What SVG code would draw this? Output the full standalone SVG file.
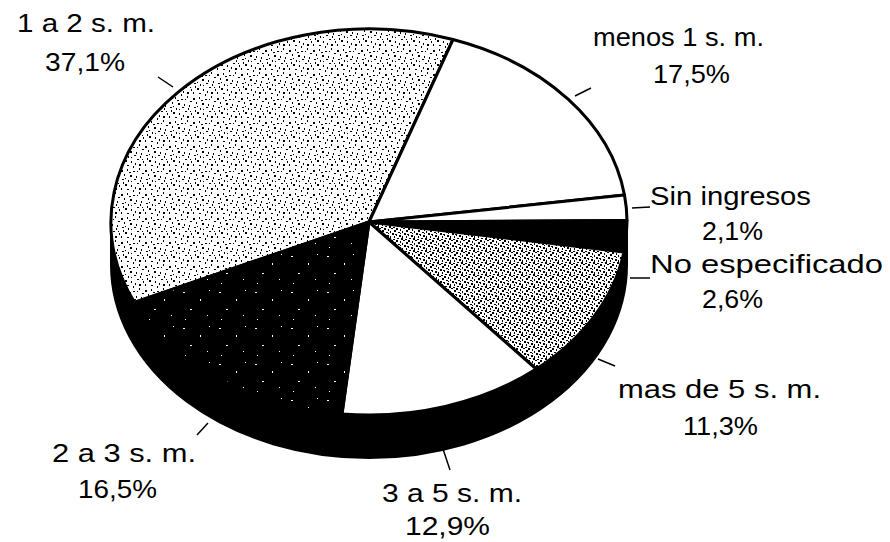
<svg xmlns="http://www.w3.org/2000/svg" width="890" height="542" viewBox="0 0 890 542">
<style>
.lbl{font-family:"Liberation Sans",Arial,sans-serif;font-size:26px;fill:#000}
.slice{stroke:#000;stroke-width:3;stroke-linejoin:round}
.lead{stroke:#000;stroke-width:1.5;fill:none}
</style>
<defs>
<pattern id="lt" width="24" height="24" patternUnits="userSpaceOnUse">
<rect width="24" height="24" fill="#fff"/>
<path fill="#000" d="M1 2h2v2h-2z M7 1h1v2h-1z M13 3h2v1h-2z M19 0h1v2h-1z M22 5h2v1h-2z M4 6h1v2h-1z M10 7h2v2h-2z M16 8h1v2h-1z M2 11h2v1h-2z M8 12h1v2h-1z M14 11h2v1h-2z M20 12h1v2h-1z M5 16h2v2h-2z M11 17h1v2h-1z M17 15h2v1h-2z M23 17h1v2h-1z M1 20h1v2h-1z M7 21h2v1h-2z M13 22h1v2h-1z M19 20h2v2h-2z M3 14h1v2h-1z M21 9h1v2h-1z M9 4h2v1h-2z M15 19h1v2h-1z M11 13h1v1h-1z M17 3h1v1h-1z M5 10h1v1h-1z M22 15h1v1h-1z"/>
</pattern>
<pattern id="dk" width="12" height="12" patternUnits="userSpaceOnUse">
<rect width="12" height="12" fill="#fff"/>
<path fill="#000" d="M0 0h2v2h-2z M4 1h1v2h-1z M7 0h2v1h-2z M10 2h2v2h-2z M2 4h2v1h-2z M6 3h1v2h-1z M8 5h2v2h-2z M0 6h1v2h-1z M3 7h2v2h-2z M6 8h1v2h-1z M10 8h1v2h-1z M1 10h2v1h-2z M5 10h2v2h-2z M9 11h2v1h-2z M4 5h1v1h-1z M11 6h1v1h-1z"/>
</pattern>
<pattern id="bk" width="36" height="36" patternUnits="userSpaceOnUse">
<rect width="36" height="36" fill="#000"/>
<path fill="#fff" d="M3 4h2v1h-2z M20 11h1v2h-1z M29 2h1v1h-1z M10 21h2v1h-2z M27 27h1v1h-1z M5 31h1v1h-1z"/>
</pattern>
</defs>
<g id="side">
<path d="M627,222 A258,193 0 0 1 111,222 L111,265 A258,193 0 0 0 627,265 Z" fill="#000" stroke="#000" stroke-width="2"/>
</g>
<g id="slice-1a2"><path class="slice" fill="url(#lt)" d="M369,222 L134.4,302.3 A258,193 0 0 1 453,39.5 Z"/></g>
<g id="slice-menos1"><path class="slice" fill="#fff" d="M369,222 L453,39.5 A258,193 0 0 1 624.5,195.1 Z"/></g>
<g id="slice-sin"><path class="slice" fill="#fff" d="M369,222 L624.5,195.1 A258,193 0 0 1 627,220.5 Z"/></g>
<g id="slice-noesp"><path class="slice" fill="#000" d="M369,222 L627,220.5 A258,193 0 0 1 623.9,251.9 Z"/></g>
<g id="slice-mas5"><path class="slice" fill="url(#dk)" d="M369,222 L623.9,251.9 A258,193 0 0 1 536.2,369 Z"/></g>
<g id="slice-3a5"><path class="slice" fill="#fff" d="M369,222 L536.2,369 A258,193 0 0 1 342,413.9 Z"/></g>
<g id="slice-2a3"><path class="slice" fill="url(#bk)" d="M369,222 L342,413.9 A258,193 0 0 1 134.4,302.3 Z"/></g>
<g id="connectors">
<line class="lead" x1="158" y1="77" x2="173" y2="87"/>
<line class="lead" x1="575" y1="96" x2="591" y2="88"/>
<line class="lead" x1="632" y1="208" x2="650" y2="207"/>
<line class="lead" x1="630" y1="278" x2="650" y2="278"/>
<line class="lead" x1="598" y1="359" x2="615" y2="366"/>
<line class="lead" x1="443" y1="449" x2="450" y2="470"/>
<line class="lead" x1="208" y1="423" x2="197" y2="435"/>
</g>
<g id="labels">
<text class="lbl" x="17" y="32" textLength="138" lengthAdjust="spacingAndGlyphs">1 a 2 s. m.</text>
<text class="lbl" x="45" y="71" textLength="80" lengthAdjust="spacingAndGlyphs">37,1%</text>
<text class="lbl" x="593" y="46" textLength="171" lengthAdjust="spacingAndGlyphs">menos 1 s. m.</text>
<text class="lbl" x="653" y="83" textLength="77" lengthAdjust="spacingAndGlyphs">17,5%</text>
<text class="lbl" x="650" y="205" textLength="161" lengthAdjust="spacingAndGlyphs">Sin ingresos</text>
<text class="lbl" x="702" y="240" textLength="61" lengthAdjust="spacingAndGlyphs">2,1%</text>
<text class="lbl" x="650" y="273" textLength="233" lengthAdjust="spacingAndGlyphs">No especificado</text>
<text class="lbl" x="702" y="308" textLength="61" lengthAdjust="spacingAndGlyphs">2,6%</text>
<text class="lbl" x="618" y="398" textLength="203" lengthAdjust="spacingAndGlyphs">mas de 5 s. m.</text>
<text class="lbl" x="683" y="435" textLength="75" lengthAdjust="spacingAndGlyphs">11,3%</text>
<text class="lbl" x="382" y="502" textLength="140" lengthAdjust="spacingAndGlyphs">3 a 5 s. m.</text>
<text class="lbl" x="405" y="535" textLength="85" lengthAdjust="spacingAndGlyphs">12,9%</text>
<text class="lbl" x="52" y="462" textLength="144" lengthAdjust="spacingAndGlyphs">2 a 3 s. m.</text>
<text class="lbl" x="78" y="498" textLength="79" lengthAdjust="spacingAndGlyphs">16,5%</text>
</g>
</svg>
